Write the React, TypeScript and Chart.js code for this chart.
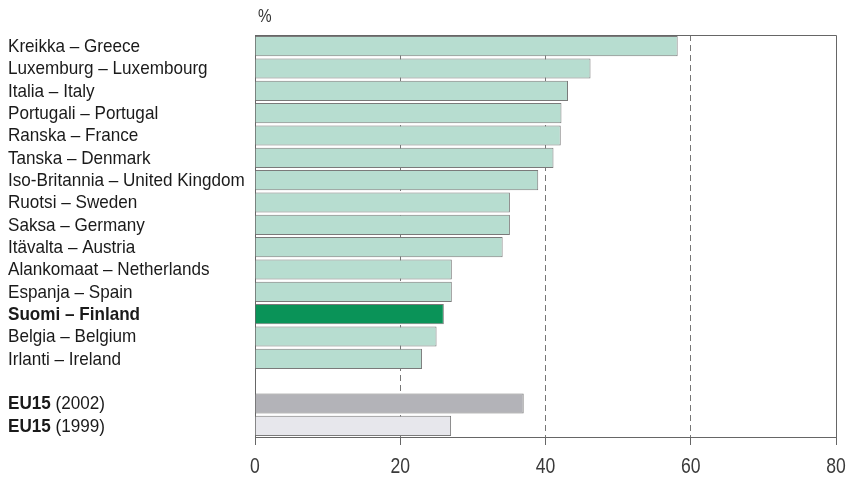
import React, { useEffect, useRef } from "react";
import { Chart, registerables } from "chart.js";

Chart.register(...registerables);

const categories = [
  "Kreikka – Greece",
  "Luxemburg – Luxembourg",
  "Italia – Italy",
  "Portugali – Portugal",
  "Ranska – France",
  "Tanska – Denmark",
  "Iso-Britannia – United Kingdom",
  "Ruotsi – Sweden",
  "Saksa – Germany",
  "Itävalta – Austria",
  "Alankomaat – Netherlands",
  "Espanja – Spain",
  "Suomi – Finland",
  "Belgia – Belgium",
  "Irlanti – Ireland",
  "",
  "EU15 (2002)",
  "EU15 (1999)",
];

const values = [58.2, 46.2, 43.1, 42.2, 42.1, 41.1, 39.0, 35.1, 35.1, 34.1, 27.1, 27.1, 26.0, 25.0, 23.0, null, 37.0, 27.0];

const xTicks = [0, 20, 40, 60, 80];
const unitLabel = "%";

const FONT = '"Liberation Sans", Arial, sans-serif';
const LABEL_SCALE = 0.9;
const TICK_SCALE = 0.8;

const TEAL = "#b7ddd0";
const FIN = "#0a9358";
const EU02 = "#b3b3b8";
const EU99 = "#e7e7ec";

function fillFor(label: string) {
  if (label.startsWith("Suomi")) return FIN;
  if (label === "EU15 (2002)") return EU02;
  if (label === "EU15 (1999)") return EU99;
  return TEAL;
}

function segmentsFor(label: string): { text: string; bold: boolean }[] {
  if (label.startsWith("Suomi")) return [{ text: label, bold: true }];
  if (label.startsWith("EU15")) {
    const rest = label.slice(4);
    return [
      { text: "EU15", bold: true },
      { text: rest, bold: false },
    ];
  }
  return [{ text: label, bold: false }];
}

function drawScaled(ctx: any, text: string, x: number, y: number, sx: number, align: string) {
  ctx.save();
  ctx.translate(x, y);
  ctx.scale(sx, 1);
  ctx.textAlign = align;
  ctx.fillText(text, 0, 0);
  ctx.restore();
  return ctx.measureText(text).width * sx;
}

const labelPlugin = {
  id: "customLabels",
  afterDraw(chart: any) {
    const ctx = chart.ctx;
    const yScale = chart.scales.y;
    const xScale = chart.scales.x;
    const area = chart.chartArea;
    ctx.save();
    ctx.textBaseline = "middle";
    ctx.fillStyle = "#1a1a1a";
    categories.forEach((label, i) => {
      if (!label) return;
      const y = yScale.getPixelForValue(i) + 0.5;
      let x = 8;
      segmentsFor(label).forEach((seg) => {
        ctx.font = `${seg.bold ? "bold " : ""}19px ${FONT}`;
        x += drawScaled(ctx, seg.text, x, y, LABEL_SCALE, "left");
      });
    });
    // x tick labels
    ctx.textBaseline = "alphabetic";
    ctx.fillStyle = "#3a3a3a";
    ctx.font = `22px ${FONT}`;
    xTicks.forEach((v) => {
      drawScaled(ctx, String(v), xScale.getPixelForValue(v), area.bottom + 36, TICK_SCALE, "center");
    });
    // unit label
    ctx.font = `18px ${FONT}`;
    ctx.fillStyle = "#333";
    drawScaled(ctx, unitLabel, area.left + 3, 22, 0.85, "left");
    // frame: top and right
    ctx.strokeStyle = "#666";
    ctx.lineWidth = 1;
    ctx.beginPath();
    ctx.moveTo(area.left, area.top + 0.5);
    ctx.lineTo(area.right + 0.5, area.top + 0.5);
    ctx.lineTo(area.right + 0.5, area.bottom);
    ctx.stroke();
    ctx.restore();
  },
};

export default function App() {
  const ref = useRef<HTMLCanvasElement | null>(null);
  useEffect(() => {
    if (!ref.current) return;
    const chart = new Chart(ref.current, {
      type: "bar",
      data: {
        labels: categories,
        datasets: [
          {
            data: values as any,
            backgroundColor: categories.map(fillFor),
            borderColor: "#7a7a7a",
            borderWidth: 1,
            barPercentage: 0.9,
            categoryPercentage: 1,
          },
        ],
      },
      options: {
        indexAxis: "y",
        animation: false,
        responsive: true,
        maintainAspectRatio: false,
        layout: { padding: { top: 35, right: 16, left: 0, bottom: 0 } },
        plugins: { legend: { display: false }, tooltip: { enabled: false } },
        scales: {
          x: {
            min: 0,
            max: 80,
            afterBuildTicks: (scale: any) => {
              scale.ticks = xTicks.map((v) => ({ value: v }));
            },
            afterFit: (scale: any) => {
              scale.height = 40;
            },
            ticks: { display: false },
            grid: {
              color: (c: any) => (c.tick && (c.tick.value === 0 || c.tick.value === 80) ? "rgba(0,0,0,0)" : "#777"),
              tickColor: "#666",
              tickLength: 8,
              lineWidth: 1,
            },
            border: { display: true, color: "#666", width: 1, dash: [6, 4] },
          },
          y: {
            afterFit: (scale: any) => {
              scale.width = 255;
            },
            ticks: { display: false },
            grid: { display: false },
            border: { display: true, color: "#666", width: 1 },
          },
        },
      },
      plugins: [labelPlugin],
    });
    return () => chart.destroy();
  }, []);
  return (
    <div style={{ position: "fixed", left: 0, top: 0, width: 852, height: 477, background: "#fff" }}>
      <canvas ref={ref} />
    </div>
  );
}
